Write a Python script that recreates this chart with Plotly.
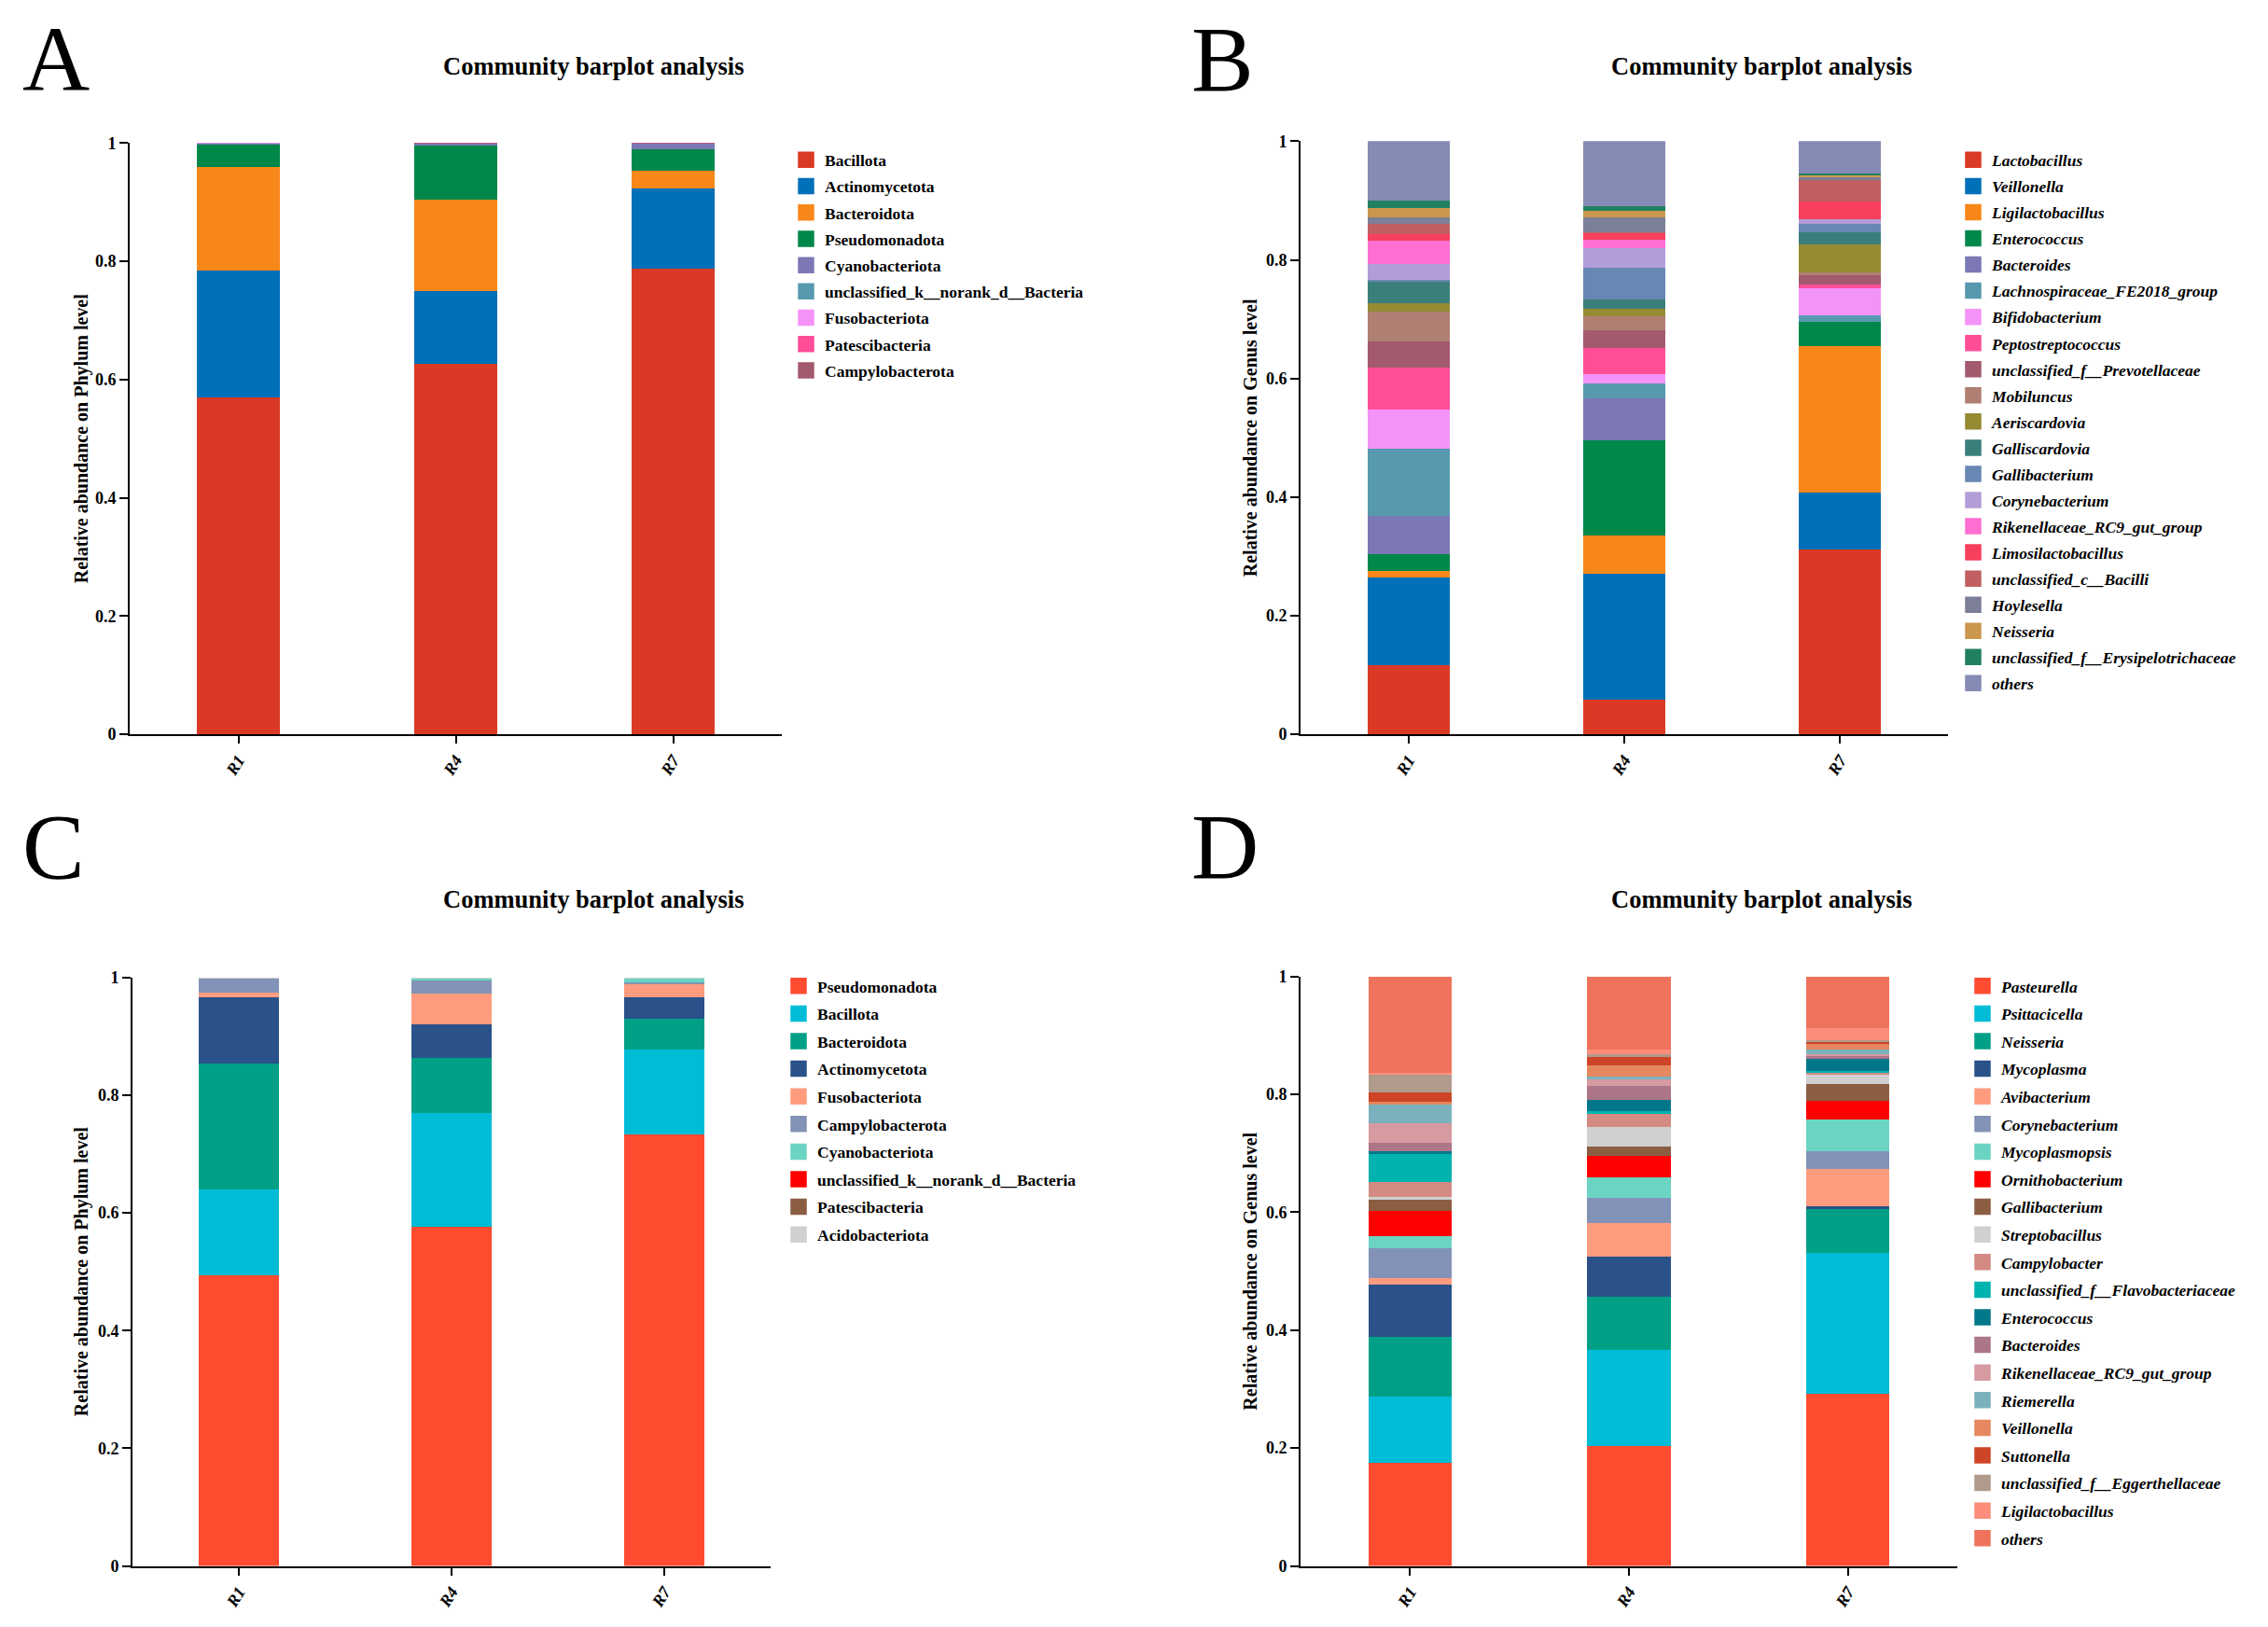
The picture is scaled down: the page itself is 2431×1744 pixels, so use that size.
import plotly.graph_objects as go

W, H = 2431, 1744          # reference picture size (px)
OFF = 8                    # default body margin of the page
FW, FH = W - 2 * OFF, H - 2 * OFF
samples = ["R1", "R4", "R7"]

# ---------------- Panel A : Phylum (dataset 1) ----------------
a_names = ["Bacillota", "Actinomycetota", "Bacteroidota", "Pseudomonadota", "Cyanobacteriota",
           "unclassified_k__norank_d__Bacteria", "Fusobacteriota", "Patescibacteria", "Campylobacterota"]
a_R1 = [0.569, 0.216, 0.174, 0.039, 0.001, 0.0008, 0.0005, 0.0004, 0.0003]
a_R4 = [0.626, 0.124, 0.154, 0.092, 0.003, 0.0005, 0.0002, 0.0002, 0.0001]
a_R7 = [0.787, 0.136, 0.030, 0.037, 0.009, 0.0006, 0.0002, 0.0001, 0.0001]
a_colors = ["#DA3A25", "#0070B8", "#F8871A", "#00884B", "#7B78B5", "#5799AF", "#F393F7", "#FF4D98", "#A35A6D"]

# ---------------- Panel B : Genus (dataset 1) ----------------
b_names = ["Lactobacillus", "Veillonella", "Ligilactobacillus", "Enterococcus", "Bacteroides",
           "Lachnospiraceae_FE2018_group", "Bifidobacterium", "Peptostreptococcus",
           "unclassified_f__Prevotellaceae", "Mobiluncus", "Aeriscardovia", "Galliscardovia",
           "Gallibacterium", "Corynebacterium", "Rikenellaceae_RC9_gut_group", "Limosilactobacillus",
           "unclassified_c__Bacilli", "Hoylesella", "Neisseria", "unclassified_f__Erysipelotrichaceae", "others"]
b_R1 = [0.117, 0.148, 0.011, 0.027, 0.065, 0.114, 0.065, 0.072, 0.043, 0.050, 0.015, 0.036,
        0.003, 0.027, 0.039, 0.012, 0.016, 0.012, 0.016, 0.012, 0.100]
b_R4 = [0.058, 0.213, 0.064, 0.161, 0.071, 0.025, 0.015, 0.045, 0.029, 0.024, 0.012, 0.016,
        0.053, 0.033, 0.015, 0.011, 0.001, 0.025, 0.012, 0.008, 0.109]
b_R7 = [0.312, 0.095, 0.247, 0.041, 0.001, 0.011, 0.045, 0.007, 0.015, 0.004, 0.048, 0.020,
        0.014, 0.008, 0.001, 0.029, 0.037, 0.004, 0.004, 0.003, 0.054]
b_colors = ["#DA3A25", "#0070B8", "#F8871A", "#00884B", "#7B78B5", "#5799AF", "#F393F7", "#FF4D98",
            "#A35A6D", "#B07F73", "#958B33", "#3B7F7B", "#6887B3", "#B29DD8", "#FF6FD2", "#F83F5E",
            "#C06062", "#7D7E98", "#CB974F", "#218061", "#868BB5"]

# ---------------- Panel C : Phylum (dataset 2) ----------------
c_names = ["Pseudomonadota", "Bacillota", "Bacteroidota", "Actinomycetota", "Fusobacteriota",
           "Campylobacterota", "Cyanobacteriota", "unclassified_k__norank_d__Bacteria",
           "Patescibacteria", "Acidobacteriota"]
c_R1 = [0.494, 0.145, 0.214, 0.114, 0.007, 0.025, 0.0005, 0.0002, 0.0002, 0.0001]
c_R4 = [0.576, 0.194, 0.093, 0.057, 0.053, 0.023, 0.003, 0.0005, 0.0003, 0.0002]
c_R7 = [0.733, 0.144, 0.053, 0.037, 0.022, 0.002, 0.008, 0.0005, 0.0003, 0.0002]
c_colors = ["#FF4B30", "#00BCD7", "#00A087", "#2A5189", "#FF9C7F", "#8293B7", "#6BD4C2", "#FF0000",
            "#8B5E42", "#D0D0D0"]

# ---------------- Panel D : Genus (dataset 2) ----------------
d_names = ["Pasteurella", "Psittacicella", "Neisseria", "Mycoplasma", "Avibacterium", "Corynebacterium",
           "Mycoplasmopsis", "Ornithobacterium", "Gallibacterium", "Streptobacillus", "Campylobacter",
           "unclassified_f__Flavobacteriaceae", "Enterococcus", "Bacteroides", "Rikenellaceae_RC9_gut_group",
           "Riemerella", "Veillonella", "Suttonella", "unclassified_f__Eggerthellaceae", "Ligilactobacillus",
           "others"]
d_R1 = [0.175, 0.112, 0.102, 0.088, 0.011, 0.051, 0.020, 0.044, 0.019, 0.004, 0.026, 0.047,
        0.004, 0.015, 0.033, 0.031, 0.005, 0.017, 0.031, 0.001, 0.164]
d_R4 = [0.204, 0.162, 0.091, 0.068, 0.057, 0.042, 0.036, 0.035, 0.017, 0.033, 0.023, 0.003,
        0.019, 0.025, 0.011, 0.005, 0.018, 0.014, 0.005, 0.008, 0.124]
d_R7 = [0.292, 0.239, 0.076, 0.003, 0.064, 0.029, 0.055, 0.031, 0.028, 0.017, 0.003, 0.002,
        0.021, 0.007, 0.001, 0.008, 0.011, 0.003, 0.002, 0.020, 0.088]
d_colors = ["#FF4B30", "#00BCD7", "#00A087", "#2A5189", "#FF9C7F", "#8293B7", "#6BD4C2", "#FF0000",
            "#8B5E42", "#D0D0D0", "#D38A83", "#00B3AE", "#00788A", "#AC7588", "#D69AA1", "#7AB1BD",
            "#E5885F", "#CD4526", "#B09A8B", "#FC8D7B", "#EF735C"]

y_ticks = [0, 0.2, 0.4, 0.6, 0.8, 1]
y_ticktext = ["0", "0.2", "0.4", "0.6", "0.8", "1"]

SERIF = "Liberation Serif"


def px(x):
    return (x - OFF) / FW


def py(y):
    # small empirical correction of the vertical placement seen in the rendered page
    y = (y - 10) / 0.9935
    return 1 - (y - OFF) / FH


panels = [
    dict(ax="", names=a_names, vals=[a_R1, a_R4, a_R7], colors=a_colors, xd=(139, 838), yd=(154, 791),
         leg=(864, 172), gap=28.2, italic=False, letter="A", letter_x=22, ylab="Relative abundance on Phylum level",
         ylab_x=87, title_x=636, title_y=71, letter_y=64),
    dict(ax="2", names=b_names, vals=[b_R1, b_R4, b_R7], colors=b_colors, xd=(1394, 2088), yd=(152, 791),
         leg=(2115, 172), gap=28.05, italic=True, letter="B", letter_x=1275, ylab="Relative abundance on Genus level",
         ylab_x=1340, title_x=1888, title_y=71, letter_y=64),
    dict(ax="3", names=c_names, vals=[c_R1, c_R4, c_R7], colors=c_colors, xd=(142, 826), yd=(1053, 1687),
         leg=(856, 1062), gap=29.6, italic=False, letter="C", letter_x=22, ylab="Relative abundance on Phylum level",
         ylab_x=87, title_x=636, title_y=969, letter_y=912),
    dict(ax="4", names=d_names, vals=[d_R1, d_R4, d_R7], colors=d_colors, xd=(1394, 2098), yd=(1052, 1687),
         leg=(2125, 1062), gap=29.6, italic=True, letter="D", letter_x=1275, ylab="Relative abundance on Genus level",
         ylab_x=1340, title_x=1888, title_y=969, letter_y=912),
]

fig = go.Figure()
annotations = []
LEG_FS = 17.5
item_h = LEG_FS * 1.3 + 3

for i, p in enumerate(panels):
    xa = "x" + p["ax"]
    ya = "y" + p["ax"]
    legname = "legend" + p["ax"]
    for k, name in enumerate(p["names"]):
        fig.add_trace(go.Bar(
            x=samples, y=[p["vals"][0][k], p["vals"][1][k], p["vals"][2][k]],
            name=name, marker=dict(color=p["colors"][k], line=dict(width=0)),
            xaxis=xa, yaxis=ya, showlegend=False,
            hovertemplate=name + ": %{y}<extra>%{x}</extra>",
        ))
    for k, name in enumerate(p["names"]):
        fig.add_trace(go.Scatter(
            x=[None], y=[None], mode="markers", name=name,
            marker=dict(symbol="square", size=16, color=p["colors"][k], line=dict(width=1.5, color=p["colors"][k])),
            xaxis=xa, yaxis=ya, legend=legname, legendgroup=f"{p['letter']}{k}", showlegend=True,
            hoverinfo="skip",
        ))

    xkey = "xaxis" + p["ax"]
    ykey = "yaxis" + p["ax"]
    fig.update_layout({
        xkey: dict(domain=[px(p["xd"][0]), px(p["xd"][1])], anchor=ya, type="category",
                   categoryorder="array", categoryarray=samples, range=[-0.5, 2.5],
                   showline=True, linecolor="black", linewidth=2, ticks="outside", ticklen=8,
                   tickwidth=2, tickcolor="black", tickangle=-58, showgrid=False, zeroline=False,
                   tickfont=dict(family=SERIF, size=18, color="black", weight="bold", style="italic")),
        ykey: dict(domain=[py(p["yd"][1]), py(p["yd"][0])], anchor=xa, range=[0, 1],
                   tickvals=y_ticks, ticktext=y_ticktext, showline=True, linecolor="black", linewidth=2,
                   ticks="outside", ticklen=9, tickwidth=2, tickcolor="black", showgrid=False, zeroline=False,
                   tickfont=dict(family=SERIF, size=18, color="black", weight="bold")),
        legname: dict(x=px(p["leg"][0] - 20), y=py(p["leg"][1] - 5 - item_h / 2), xanchor="left", yanchor="top",
                      traceorder="grouped", tracegroupgap=max(p["gap"] - item_h, 0),
                      bgcolor="rgba(0,0,0,0)", borderwidth=0, itemclick=False, itemdoubleclick=False,
                      font=dict(family=SERIF, size=LEG_FS, color="black", weight="bold",
                                style="italic" if p["italic"] else "normal")),
    })

    ymid = (p["yd"][0] + p["yd"][1]) / 2
    annotations.append(dict(text=p["ylab"], x=px(p["ylab_x"]), y=py(ymid), xref="paper", yref="paper",
                            textangle=-90, showarrow=False, xanchor="center", yanchor="middle",
                            font=dict(family=SERIF, size=20, color="black", weight="bold")))
    annotations.append(dict(text="Community barplot analysis", x=px(p["title_x"]), y=py(p["title_y"]),
                            xref="paper", yref="paper", showarrow=False, xanchor="center", yanchor="middle",
                            font=dict(family=SERIF, size=26.5, color="black", weight="bold")))
    annotations.append(dict(text=p["letter"], x=px(p["letter_x"]), y=py(p["letter_y"]), xref="paper",
                            yref="paper", showarrow=False, xanchor="left", yanchor="middle",
                            font=dict(family=SERIF, size=100, color="black")))

fig.update_layout(
    width=FW, height=FH, margin=dict(l=0, r=0, t=0, b=0),
    paper_bgcolor="white", plot_bgcolor="white",
    barmode="stack", bargap=0.62,
    annotations=annotations,
)

fig.write_html("out.html")
